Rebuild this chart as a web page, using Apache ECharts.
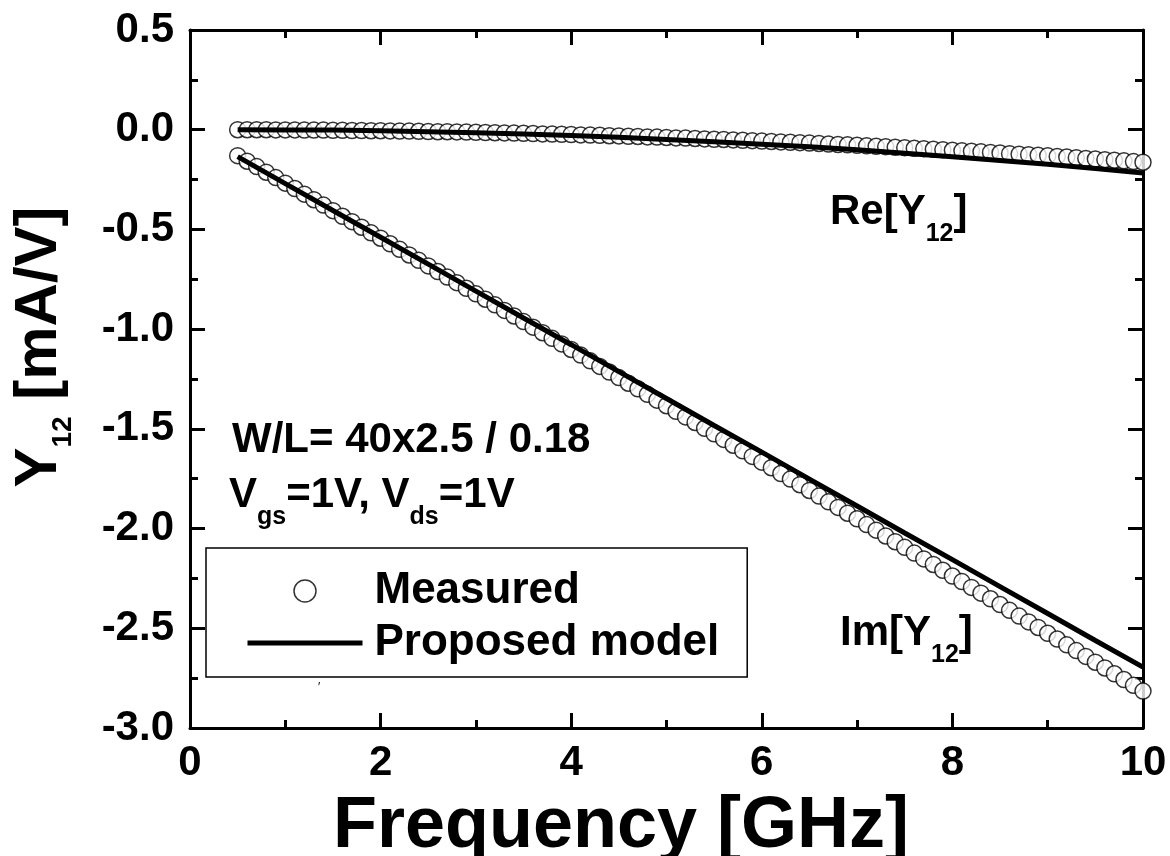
<!DOCTYPE html>
<html>
<head>
<meta charset="utf-8">
<script src="https://cdn.jsdelivr.net/npm/echarts@6/dist/echarts.min.js"></script>
<style>
html,body{margin:0;padding:0;background:#fff;}
#chart{width:1170px;height:856px;}
</style>
</head>
<body>
<div id="chart"></div>
<script>
// ---- data ----
const freqMeas = [0.5,0.6,0.7,0.8,0.9,1.0,1.1,1.2,1.3,1.4,1.5,1.6,1.7,1.8,1.9,2.0,2.1,2.2,2.3,2.4,2.5,2.6,2.7,2.8,2.9,3.0,3.1,3.2,3.3,3.4,3.5,3.6,3.7,3.8,3.9,4.0,4.1,4.2,4.3,4.4,4.5,4.6,4.7,4.8,4.9,5.0,5.1,5.2,5.3,5.4,5.5,5.6,5.7,5.8,5.9,6.0,6.1,6.2,6.3,6.4,6.5,6.6,6.7,6.8,6.9,7.0,7.1,7.2,7.3,7.4,7.5,7.6,7.7,7.8,7.9,8.0,8.1,8.2,8.3,8.4,8.5,8.6,8.7,8.8,8.9,9.0,9.1,9.2,9.3,9.4,9.5,9.6,9.7,9.8,9.9,10.0];
const reMeas = [0,0,0,0,-0.001,-0.001,-0.001,-0.002,-0.002,-0.002,
  -0.003,-0.003,-0.004,-0.004,-0.005,-0.005,-0.006,-0.007,-0.007,-0.008,
  -0.009,-0.010,-0.010,-0.011,-0.012,-0.013,-0.014,-0.015,-0.016,-0.017,
  -0.018,-0.019,-0.021,-0.022,-0.023,-0.024,-0.026,-0.027,-0.028,-0.030,
  -0.031,-0.033,-0.034,-0.036,-0.037,-0.039,-0.041,-0.042,-0.044,-0.046,
  -0.048,-0.049,-0.051,-0.053,-0.055,-0.057,-0.059,-0.061,-0.063,-0.065,
  -0.067,-0.069,-0.072,-0.074,-0.076,-0.078,-0.081,-0.083,-0.085,-0.088,
  -0.090,-0.093,-0.095,-0.098,-0.100,-0.103,-0.106,-0.108,-0.111,-0.114,
  -0.117,-0.120,-0.123,-0.125,-0.128,-0.131,-0.134,-0.137,-0.140,-0.144,
  -0.147,-0.150,-0.153,-0.156,-0.160,-0.163];
const imMeas = [-0.130,-0.158,-0.185,-0.213,-0.240,-0.268,-0.295,-0.323,-0.351,-0.378,
  -0.406,-0.434,-0.461,-0.489,-0.517,-0.544,-0.572,-0.600,-0.628,-0.655,
  -0.683,-0.711,-0.739,-0.767,-0.795,-0.823,-0.850,-0.878,-0.906,-0.934,
  -0.962,-0.990,-1.018,-1.046,-1.074,-1.102,-1.130,-1.159,-1.187,-1.215,
  -1.243,-1.271,-1.299,-1.327,-1.356,-1.384,-1.412,-1.440,-1.468,-1.497,
  -1.525,-1.553,-1.582,-1.610,-1.638,-1.667,-1.695,-1.724,-1.752,-1.780,
  -1.809,-1.837,-1.866,-1.894,-1.923,-1.951,-1.980,-2.008,-2.037,-2.066,
  -2.094,-2.123,-2.152,-2.180,-2.209,-2.238,-2.266,-2.295,-2.324,-2.352,
  -2.381,-2.410,-2.439,-2.468,-2.496,-2.525,-2.554,-2.583,-2.612,-2.641,
  -2.670,-2.699,-2.728,-2.757,-2.786,-2.815];
const freqModel = [0.5,1.0,1.5,2.0,2.5,3.0,3.5,4.0,4.5,5.0,5.5,6.0,6.5,7.0,7.5,8.0,8.5,9.0,9.5,10.0];
const reModel = [0,-0.001,-0.002,-0.005,-0.010,-0.015,-0.022,-0.029,-0.038,-0.049,-0.060,-0.073,-0.086,-0.101,-0.118,-0.135,-0.154,-0.173,-0.194,-0.217];
const imModel = [-0.135,-0.270,-0.405,-0.539,-0.674,-0.809,-0.944,-1.078,-1.213,-1.348,-1.483,-1.617,-1.752,-1.887,-2.022,-2.156,-2.291,-2.426,-2.561,-2.695];
const xTicks = {min: 0, max: 10, interval: 2};
const yTicks = {min: -3.0, max: 0.5, interval: 0.5};

// ---- chart ----
const FONT = '"Liberation Sans", Arial, Helvetica, sans-serif';
const zip = (xs, ys) => xs.map((x, i) => [x, ys[i]]);
const chart = echarts.init(document.getElementById('chart'), null, {renderer: 'canvas'});

const tickCommon = {
  axisLine: {show: true, onZero: false, lineStyle: {color: '#000', width: 3}},
  axisTick: {show: true, inside: true, length: 15, lineStyle: {color: '#000', width: 3}},
  minorTick: {show: true, splitNumber: 2, length: 8, lineStyle: {color: '#000', width: 3}},
  splitLine: {show: false},
  minorSplitLine: {show: false}
};
const labelStyle = {color: '#000', fontFamily: FONT, fontWeight: 'bold', fontSize: 42};

const main = {fontFamily: FONT, fontWeight: 'bold', fill: '#000'};
function rich(mainSize, subSize, subPad) {
  return {
    m: Object.assign({}, main, {fontSize: mainSize, lineHeight: mainSize, verticalAlign: 'top'}),
    s: Object.assign({}, main, {fontSize: subSize, lineHeight: subSize, verticalAlign: 'top', padding: [subPad, 0, 0, 0]})
  };
}
const circleStyle = {color: '#fff', borderColor: '#000', borderWidth: 1.5};

const option = {
  backgroundColor: '#fff',
  animation: false,
  grid: {left: 190, right: 27, top: 30, bottom: 128, containLabel: false},
  xAxis: [
    Object.assign({type: 'value', position: 'bottom', min: xTicks.min, max: xTicks.max, interval: xTicks.interval,
      axisLabel: Object.assign({margin: 14}, labelStyle)}, tickCommon),
    Object.assign({type: 'value', position: 'top', min: xTicks.min, max: xTicks.max, interval: xTicks.interval,
      axisLabel: {show: false}}, tickCommon)
  ],
  yAxis: [
    Object.assign({type: 'value', position: 'left', min: yTicks.min, max: yTicks.max, interval: yTicks.interval,
      axisLabel: Object.assign({margin: 16, formatter: v => v.toFixed(1)}, labelStyle)}, tickCommon),
    Object.assign({type: 'value', position: 'right', min: yTicks.min, max: yTicks.max, interval: yTicks.interval,
      axisLabel: {show: false}}, tickCommon)
  ],
  legend: {
    orient: 'vertical', left: 206, top: 548,
    padding: [19, 28, 10, 39],
    borderColor: '#000', borderWidth: 1.5,
    itemWidth: 115, itemHeight: 22, itemGap: 4,
    textStyle: {color: '#000', fontFamily: FONT, fontWeight: 'bold', fontSize: 44, lineHeight: 48, padding: [0, 0, 0, 7]},
    data: [
      {name: 'Measured', itemStyle: {color: '#fff', borderColor: '#000', borderWidth: 1.5}},
      {name: 'Proposed model', itemStyle: {color: 'rgba(0,0,0,0)', borderColor: 'rgba(0,0,0,0)', borderWidth: 0},
        lineStyle: {color: '#000', width: 5}}
    ]
  },
  series: [
    {name: 'Measured', type: 'scatter', data: zip(freqMeas, reMeas), symbol: 'circle', symbolSize: 16,
      itemStyle: circleStyle},
    {name: 'Measured', type: 'scatter', data: zip(freqMeas, imMeas), symbol: 'circle', symbolSize: 16,
      itemStyle: circleStyle},
    {name: 'Proposed model', type: 'line', data: zip(freqModel, reModel), symbol: 'none', smooth: false,
      lineStyle: {color: '#000', width: 5}, itemStyle: {color: '#000'}},
    {name: 'Proposed model', type: 'line', data: zip(freqModel, imModel), symbol: 'none', smooth: false,
      lineStyle: {color: '#000', width: 5}, itemStyle: {color: '#000'}}
  ],
  graphic: [
    {type: 'text', x: 9, y: 347, rotation: Math.PI / 2,
      style: {text: '{m|Y}{s|12}{m| [mA/V]}', rich: rich(60, 28, 40), align: 'center', verticalAlign: 'top'}},
    {type: 'text', x: 621, y: 827,
      style: {text: 'Frequency [GHz]', fontFamily: FONT, fontWeight: 'bold', fontSize: 72, fill: '#000', align: 'center', verticalAlign: 'middle'}},
    {type: 'text', x: 232, y: 419,
      style: {text: 'W/L= 40x2.5 / 0.18', fontFamily: FONT, fontWeight: 'bold', fontSize: 42, fill: '#000', align: 'left', verticalAlign: 'top'}},
    {type: 'text', x: 229, y: 474,
      style: {text: '{m|V}{s|gs}{m|=1V, V}{s|ds}{m|=1V}', rich: rich(42, 25, 31), align: 'left', verticalAlign: 'top'}},
    {type: 'text', x: 830, y: 191,
      style: {text: '{m|Re[Y}{s|12}{m|]}', rich: rich(42, 25, 31), align: 'left', verticalAlign: 'top'}},
    {type: 'text', x: 840, y: 612,
      style: {text: '{m|Im[Y}{s|12}{m|]}', rich: rich(42, 25, 31), align: 'left', verticalAlign: 'top'}},
    {type: 'text', x: 318, y: 682,
      style: {text: '′', fontFamily: FONT, fontSize: 12, fill: '#000'}}
  ]
};
chart.setOption(option);
</script>
</body>
</html>
